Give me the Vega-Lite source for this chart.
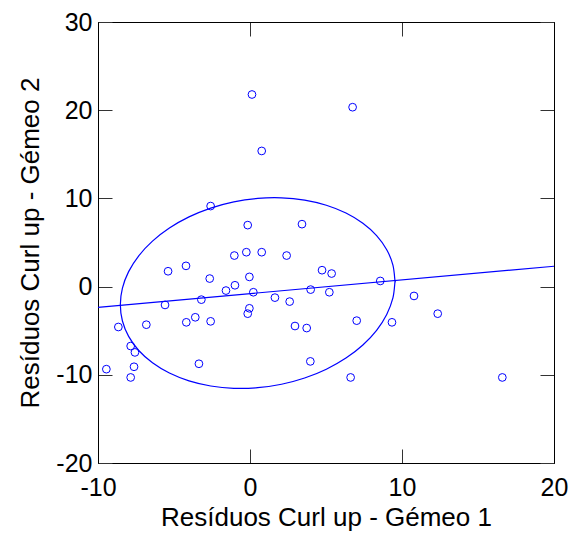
{
  "$schema": "https://vega.github.io/schema/vega-lite/v6.json",
  "width": 456,
  "height": 441,
  "autosize": {"type": "none"},
  "padding": {"left": 98, "top": 22, "right": 27, "bottom": 76},
  "background": "white",
  "config": {
    "view": {"stroke": "black", "strokeWidth": 1},
    "font": "Liberation Sans",
    "axis": {
      "grid": false,
      "domainColor": "black",
      "tickColor": "#333333",
      "tickSize": -14,
      "labelFlush": false,
      "labelOverlap": false,
      "labelFont": "Liberation Sans",
      "labelFontSize": 25,
      "labelColor": "black",
      "titleFont": "Liberation Sans",
      "titleFontSize": 26,
      "titleFontWeight": "normal",
      "titleColor": "black"
    }
  },
  "datasets": {
    "pts": [
      {"x": 0.13, "y": 21.78}, {"x": 6.75, "y": 20.34}, {"x": 0.77, "y": 15.38},
      {"x": -2.59, "y": 9.13}, {"x": -0.15, "y": 6.97}, {"x": 3.42, "y": 7.08},
      {"x": -1.03, "y": 3.52}, {"x": -0.24, "y": 3.9}, {"x": 0.77, "y": 3.9},
      {"x": 2.41, "y": 3.52}, {"x": -4.21, "y": 2.35}, {"x": -5.39, "y": 1.74},
      {"x": 4.74, "y": 1.86}, {"x": 5.37, "y": 1.48}, {"x": -2.65, "y": 0.91},
      {"x": -0.04, "y": 1.1}, {"x": 8.57, "y": 0.64}, {"x": -0.99, "y": 0.15},
      {"x": -1.58, "y": -0.45}, {"x": 0.22, "y": -0.64}, {"x": 3.99, "y": -0.34},
      {"x": 5.22, "y": -0.64}, {"x": -3.2, "y": -1.48}, {"x": 1.64, "y": -1.25},
      {"x": 2.61, "y": -1.7}, {"x": -5.59, "y": -2.08}, {"x": -0.04, "y": -2.46},
      {"x": -0.15, "y": -3.07}, {"x": 10.79, "y": -1.06}, {"x": 12.35, "y": -3.07},
      {"x": -3.6, "y": -3.48}, {"x": -4.19, "y": -4.05}, {"x": -2.59, "y": -3.94},
      {"x": -6.82, "y": -4.32}, {"x": -8.66, "y": -4.58}, {"x": 2.96, "y": -4.47},
      {"x": 3.73, "y": -4.7}, {"x": 7.02, "y": -3.86}, {"x": 9.34, "y": -4.05},
      {"x": -7.85, "y": -6.74}, {"x": -7.57, "y": -7.46}, {"x": -7.63, "y": -9.09},
      {"x": -9.45, "y": -9.36}, {"x": -7.85, "y": -10.3}, {"x": -3.36, "y": -8.75},
      {"x": 3.97, "y": -8.48}, {"x": 6.62, "y": -10.3}, {"x": 16.6, "y": -10.3}
    ],
    "reg": [
      {"x": -10, "y": -2.35}, {"x": 20, "y": 2.31}
    ],
    "ell": [
      {"i": 0, "x": 9.54, "y": 0.595}, {"i": 1, "x": 9.403, "y": 2.439},
      {"i": 2, "x": 8.995, "y": 4.186}, {"i": 3, "x": 8.329, "y": 5.784},
      {"i": 4, "x": 7.426, "y": 7.184}, {"i": 5, "x": 6.313, "y": 8.343},
      {"i": 6, "x": 5.023, "y": 9.228}, {"i": 7, "x": 3.595, "y": 9.809},
      {"i": 8, "x": 2.074, "y": 10.07}, {"i": 9, "x": 0.505, "y": 10.003},
      {"i": 10, "x": -1.064, "y": 9.61}, {"i": 11, "x": -2.585, "y": 8.903},
      {"i": 12, "x": -4.013, "y": 7.902}, {"i": 13, "x": -5.303, "y": 6.639},
      {"i": 14, "x": -6.416, "y": 5.154}, {"i": 15, "x": -7.319, "y": 3.49},
      {"i": 16, "x": -7.985, "y": 1.696}, {"i": 17, "x": -8.393, "y": -0.171},
      {"i": 18, "x": -8.53, "y": -2.055}, {"i": 19, "x": -8.393, "y": -3.899},
      {"i": 20, "x": -7.985, "y": -5.646}, {"i": 21, "x": -7.319, "y": -7.244},
      {"i": 22, "x": -6.416, "y": -8.644}, {"i": 23, "x": -5.303, "y": -9.803},
      {"i": 24, "x": -4.013, "y": -10.688}, {"i": 25, "x": -2.585, "y": -11.269},
      {"i": 26, "x": -1.064, "y": -11.53}, {"i": 27, "x": 0.505, "y": -11.463},
      {"i": 28, "x": 2.074, "y": -11.07}, {"i": 29, "x": 3.595, "y": -10.363},
      {"i": 30, "x": 5.023, "y": -9.362}, {"i": 31, "x": 6.313, "y": -8.099},
      {"i": 32, "x": 7.426, "y": -6.614}, {"i": 33, "x": 8.329, "y": -4.95},
      {"i": 34, "x": 8.995, "y": -3.156}, {"i": 35, "x": 9.403, "y": -1.289},
      {"i": 36, "x": 9.54, "y": 0.595}
    ]
  },
  "layer": [
    {
      "data": {"name": "pts"},
      "mark": {"type": "point", "shape": "circle", "filled": false, "size": 60, "strokeWidth": 1, "color": "#0000ff", "opacity": 1},
      "encoding": {
        "x": {"field": "x", "type": "quantitative", "scale": {"domain": [-10, 20], "nice": false, "zero": false},
              "axis": {"orient": "bottom", "values": [-10, 0, 10, 20], "labelExpr": "datum.value + ''", "title": "Resíduos Curl up - Gémeo 1", "labelPadding": 26, "titlePadding": 4}},
        "y": {"field": "y", "type": "quantitative", "scale": {"domain": [-20, 30], "nice": false, "zero": false},
              "axis": {"orient": "left", "values": [-20, -10, 0, 10, 20, 30], "labelExpr": "datum.value + ''", "title": "Resíduos Curl up - Gémeo 2", "labelPadding": 20, "titlePadding": 12}}
      }
    },
    {
      "data": {"name": "reg"},
      "mark": {"type": "line", "color": "#0000ff", "strokeWidth": 1.2},
      "encoding": {
        "x": {"field": "x", "type": "quantitative", "axis": {"orient": "top", "values": [-10, 0, 10, 20], "labels": false, "title": null}},
        "y": {"field": "y", "type": "quantitative", "axis": {"orient": "right", "values": [-20, -10, 0, 10, 20, 30], "labels": false, "title": null}}
      }
    },
    {
      "data": {"name": "ell"},
      "mark": {"type": "line", "color": "#0000ff", "strokeWidth": 1.2, "interpolate": "cardinal-closed"},
      "encoding": {
        "x": {"field": "x", "type": "quantitative", "axis": null},
        "y": {"field": "y", "type": "quantitative", "axis": null},
        "order": {"field": "i", "type": "quantitative"}
      }
    }
  ],
  "resolve": {"axis": {"x": "independent", "y": "independent"}}
}
